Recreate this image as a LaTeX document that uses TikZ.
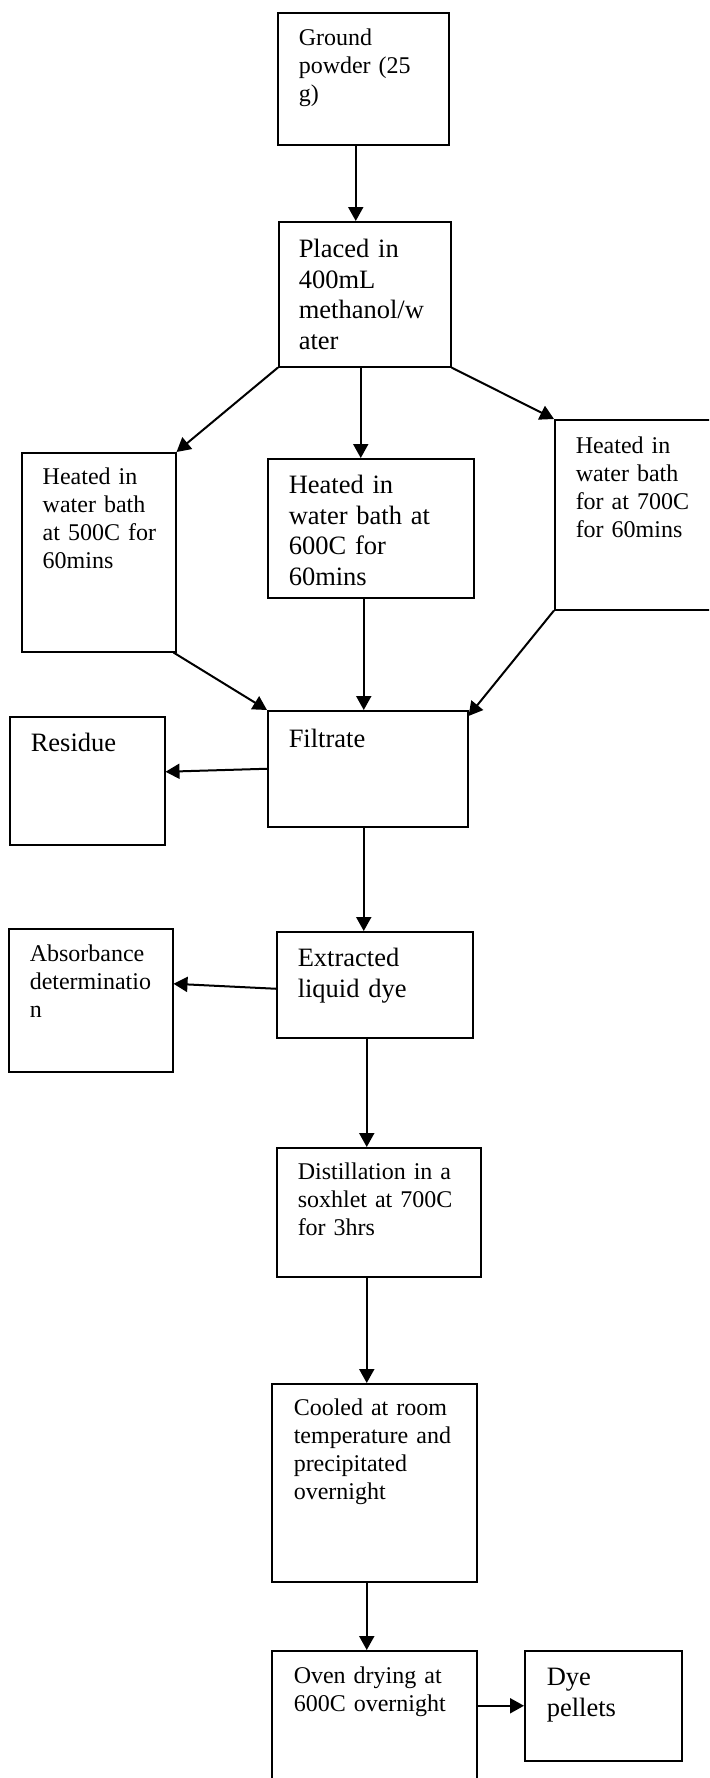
\documentclass[tikz,border=0pt]{standalone}
\usepackage{fontspec}
\setmainfont{Liberation Serif}
\usetikzlibrary{arrows.meta,calc}
\tikzset{
  stepbox/.style={draw, line width=0.75pt, align=left},
  smalltxt/.style={font=\fontsize{12}{14}\selectfont},
  largetxt/.style={font=\fontsize{13.25}{15.25}\selectfont},
  arr/.style={line width=1pt, -{Triangle[length=7pt,width=7.5pt]}}
}
% #1 name, #2 x0, #3 y0, #4 x1, #5 y1, #6 text left, #7 first baseline, #8 style, #9 text (all in px)
\newcommand\flowbox[9]{%
  \edef\fbix{\fpeval{((#6)-(#2))*0.5}pt}%
  \edef\fbtw{\fpeval{((#4)-(#2)-2*((#6)-(#2)))*0.5}pt}%
  \edef\fbth{\fpeval{((#7)-(#3))*0.5}pt}%
  \edef\fbtd{\fpeval{((#5)-(#7))*0.5}pt}%
  \node[stepbox,#8,anchor=north west,inner xsep=\fbix,inner ysep=0pt,
        text width=\fbtw,text height=\fbth,text depth=\fbtd] (#1) at (#2,#3) {#9};}
\begin{document}
\begin{tikzpicture}[x=0.5pt,y=-0.5pt]
\useasboundingbox (0,0) rectangle (709,1778);
\fill[white] (0,0) rectangle (709,1778);
\clip (0,0) rectangle (709,1778);

\flowbox{ground}{277}{12}{448}{144}{298}{45}{smalltxt}{Ground\\powder~(25\\g)}
\flowbox{placed}{278}{221}{450}{366}{298}{257}{largetxt}{Placed~in\\400mL\\methanol/w\\ater}
\flowbox{lheat}{21}{452}{175}{651}{42}{484}{smalltxt}{Heated~in\\water~bath\\at~500C~for\\60mins}
\flowbox{mheat}{267}{458}{473}{597}{288}{493}{largetxt}{Heated~in\\water~bath~at\\600C~for\\60mins}
\flowbox{rheat}{554}{419}{740}{609}{575}{453}{smalltxt}{Heated~in\\water~bath\\for~at~700C\\for~60mins}
\flowbox{filt}{267}{710}{467}{826}{288}{747}{largetxt}{Filtrate}
\flowbox{res}{9}{716}{164}{844}{30}{751}{largetxt}{Residue}
\flowbox{absorb}{8}{928}{172}{1071}{29}{961}{smalltxt}{Absorbance\\determinatio\\n}
\flowbox{extr}{276}{931}{472}{1037}{297}{966}{largetxt}{Extracted\\liquid~dye}
\flowbox{dist}{276}{1147}{480}{1276}{297}{1179}{smalltxt}{Distillation~in~a\\soxhlet~at~700C\\for~3hrs}
\flowbox{cooled}{271}{1383}{476}{1581}{293}{1415}{smalltxt}{Cooled~at~room\\temperature~and\\precipitated\\overnight}
\flowbox{oven}{271}{1650}{476}{1800}{293}{1683}{smalltxt}{Oven~drying~at\\600C~overnight}
\flowbox{dye}{524}{1650}{681}{1760}{546}{1685}{largetxt}{Dye\\pellets}

\draw[arr] ([xshift=-3.75pt]ground.south) -- ([xshift=-3.75pt]ground.south |- placed.north);
\draw[arr] (placed.south west) -- (lheat.north east);
\draw[arr] ([xshift=-2pt]placed.south) -- ([xshift=-2pt]placed.south |- mheat.north);
\draw[arr] (placed.south east) -- (rheat.north west);
\draw[arr] ([xshift=-1.5pt]lheat.south east) -- (filt.north west);
\draw[arr] ([xshift=-3.5pt]mheat.south) -- ([xshift=-3.5pt]mheat.south |- filt.north);
\draw[arr] (rheat.south west) -- ([yshift=-3pt]filt.north east);
\draw[arr] (filt.west) -- ([yshift=4.5pt]res.east);
\draw[arr] ([xshift=-2pt]filt.south) -- ([xshift=-2pt]filt.south |- extr.north);
\draw[arr] ([yshift=-2pt]extr.west) -- ([yshift=8.25pt]absorb.east);
\draw[arr] ([xshift=-4pt]extr.south) -- ([xshift=-4pt]extr.south |- dist.north);
\draw[arr] ([xshift=-6pt]dist.south) -- ([xshift=-6pt]dist.south |- cooled.north);
\draw[arr] ([xshift=-3.75pt]cooled.south) -- ([xshift=-3.75pt]cooled.south |- oven.north);
\draw[arr] (dye.west -| oven.east) -- (dye.west);
\end{tikzpicture}
\end{document}
